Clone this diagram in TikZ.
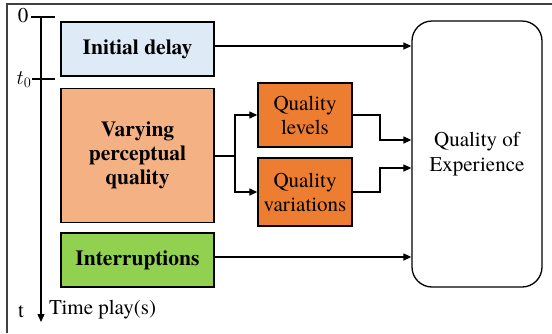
\documentclass[tikz,border=0pt]{standalone}
\usepackage{fontspec}
\setmainfont{texgyretermes}[Extension=.otf,UprightFont=*-regular,BoldFont=*-bold,ItalicFont=*-italic,BoldItalicFont=*-bolditalic]
\usetikzlibrary{arrows.meta}
\definecolor{cblue}{HTML}{DEEBF7}
\definecolor{cpeach}{HTML}{F4B183}
\definecolor{corange}{HTML}{ED7D31}
\definecolor{cgreen}{HTML}{92D050}
\definecolor{cframe}{HTML}{404040}
\tikzset{
  box/.style={draw=black, line width=1.8pt, align=center, inner sep=2pt,
    font=\rmfamily\fontsize{21}{24}\selectfont},
  mainbox/.style={box, minimum width=153pt, font=\rmfamily\fontsize{21.5}{24}\selectfont\bfseries},
  subbox/.style={box, fill=corange, line width=1.4pt, minimum width=94pt},
  arr/.style={line width=1.3pt, -{Triangle[length=8pt,width=7pt]}},
  conn/.style={line width=1.3pt},
  lbl/.style={font=\rmfamily\fontsize{21}{24}\selectfont, inner sep=0pt}
}
\begin{document}
\begin{tikzpicture}[x=1pt,y=-1pt]
\useasboundingbox (0,0) rectangle (552,333);
% frame
\draw[cframe, line width=1.5pt] (7,333) -- (7,4) -- (552,4);
% time axis
\coordinate (ax0) at (41,17);
\coordinate (ax1) at (41,322);
\draw[line width=1.3pt, -{Triangle[length=8pt,width=7pt]}] (ax0) -- (ax1);
\coordinate (tk0a) at (31,17); \coordinate (tk0b) at (55,17);
\coordinate (tk1a) at (32,79); \coordinate (tk1b) at (55,79);
\draw[line width=1.3pt] (tk0a) -- (tk0b);
\draw[line width=1.3pt] (tk1a) -- (tk1b);
\node[lbl] (l0) at (23,16) {0};
\node[lbl] (lt0) at (24,80) {$t_0$};
\node[lbl] (lt) at (21,312) {t};
\node[lbl, anchor=west] (ltp) at (49,310) {Time play(s)};
% boxes
\node[mainbox, fill=cblue, minimum height=54pt] (init) at (137.5,49) {Initial delay};
\node[mainbox, fill=cpeach, minimum height=134pt] (vary) at (137.5,155.5) {Varying\\perceptual\\quality};
\node[mainbox, fill=cgreen, minimum height=54pt] (intr) at (137.5,260) {Interruptions};
\node[subbox, minimum height=64pt] (lev) at (305,115) {Quality\\levels};
\node[subbox, minimum height=68pt] (var) at (305,192) {Quality\\variations};
\node[draw=black, line width=1.3pt, rounded corners=20pt, minimum width=130pt,
  minimum height=266pt, align=center, font=\rmfamily\fontsize{21}{25}\selectfont] (qoe) at (477,154) {Quality of\\Experience};
% connectors
\draw[arr] (init.east |- 0,46) -- (qoe.west |- 0,46);
\draw[arr] (intr.east |- 0,257) -- (qoe.west |- 0,257);
\coordinate (split) at (235,156);
\draw[conn] (vary.east |- split) -- (split);
\draw[arr] (split) |- (lev.west);
\draw[arr] (split) |- (var.west);
\coordinate (j1) at (380,115);
\coordinate (j2) at (380,192);
\draw[arr] (lev.east) -- (j1) |- (qoe.west |- 0,140);
\draw[arr] (var.east) -- (j2) |- (qoe.west |- 0,168);
\end{tikzpicture}
\end{document}
